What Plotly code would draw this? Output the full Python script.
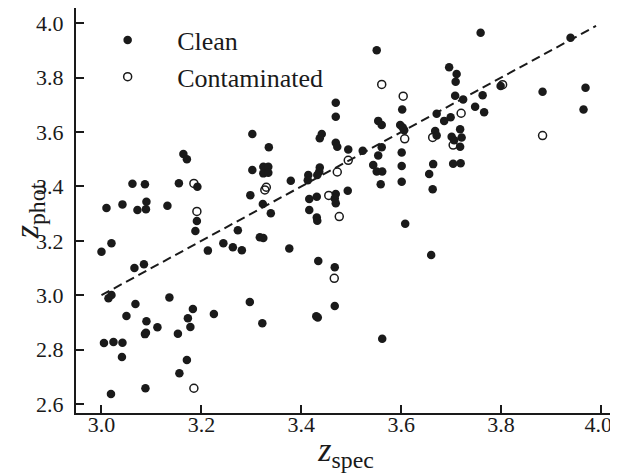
import plotly.graph_objects as go

# Clean sources (filled dots)
clean_zspec = [3.000, 3.020, 3.010, 3.042, 3.062, 3.087, 3.072, 3.089, 3.090, 3.132,
               3.155, 3.164, 3.171, 3.192, 3.191, 3.188, 3.213, 3.244, 3.263, 3.281,
               3.273, 3.302, 3.302, 3.298, 3.066, 3.085, 3.014, 3.020, 3.068, 3.136,
               3.050, 3.090, 3.112, 3.087, 3.089, 3.183, 3.173, 3.178, 3.225, 3.153,
               3.297, 3.005, 3.024, 3.042, 3.041, 3.171, 3.156, 3.019, 3.088, 3.317,
               3.324, 3.322, 3.324, 3.334, 3.324, 3.334, 3.335, 3.323, 3.339, 3.441,
               3.437, 3.469, 3.472, 3.494, 3.523, 3.561, 3.554, 3.601, 3.601, 3.601,
               3.606, 3.668, 3.664, 3.656, 3.663, 3.544, 3.551, 3.562, 3.559, 3.437,
               3.436, 3.432, 3.414, 3.413, 3.379, 3.416, 3.431, 3.469, 3.467, 3.469,
               3.493, 3.416, 3.431, 3.432, 3.608, 3.376, 3.434, 3.467, 3.660, 3.467,
               3.430, 3.433, 3.562, 3.551, 3.602, 3.469, 3.469, 3.554, 3.561, 3.598,
               3.603, 3.671, 3.671, 3.759, 3.939, 3.696, 3.711, 3.709, 3.799, 3.883,
               3.969, 3.965, 3.708, 3.724, 3.763, 3.748, 3.766, 3.699, 3.686, 3.701,
               3.718, 3.721, 3.706, 3.718, 3.704, 3.719]
clean_zphot = [3.160, 3.191, 3.321, 3.334, 3.410, 3.408, 3.313, 3.316, 3.344, 3.329,
               3.412, 3.519, 3.500, 3.399, 3.273, 3.236, 3.164, 3.191, 3.176, 3.165,
               3.239, 3.593, 3.460, 3.368, 3.100, 3.114, 2.989, 3.001, 2.968, 2.992,
               2.924, 2.904, 2.882, 2.857, 2.862, 2.949, 2.915, 2.883, 2.931, 2.858,
               2.975, 2.824, 2.828, 2.825, 2.773, 2.762, 2.713, 2.637, 2.658, 3.213,
               3.210, 2.897, 3.472, 3.472, 3.448, 3.450, 3.544, 3.335, 3.301, 3.593,
               3.577, 3.561, 3.546, 3.536, 3.531, 3.544, 3.514, 3.525, 3.475, 3.417,
               3.607, 3.604, 3.482, 3.446, 3.390, 3.479, 3.455, 3.455, 3.408, 3.470,
               3.454, 3.442, 3.442, 3.423, 3.421, 3.354, 3.362, 3.372, 3.356, 3.338,
               3.384, 3.313, 3.286, 3.274, 3.263, 3.172, 3.126, 3.103, 3.148, 2.960,
               2.923, 2.918, 2.840, 3.901, 3.683, 3.708, 3.656, 3.641, 3.626, 3.626,
               3.617, 3.667, 3.587, 3.965, 3.947, 3.838, 3.813, 3.785, 3.769, 3.748,
               3.763, 3.683, 3.733, 3.720, 3.735, 3.693, 3.673, 3.654, 3.641, 3.583,
               3.610, 3.580, 3.570, 3.546, 3.483, 3.485]

# Contaminated sources (open circles)
cont_zspec = [3.185, 3.191, 3.185, 3.327, 3.330, 3.607, 3.663, 3.494, 3.472, 3.455,
              3.476, 3.466, 3.561, 3.604, 3.803, 3.720, 3.883, 3.704]
cont_zphot = [3.411, 3.308, 2.658, 3.387, 3.397, 3.575, 3.580, 3.496, 3.453, 3.367,
              3.289, 3.062, 3.775, 3.732, 3.774, 3.669, 3.587, 3.552]

# One-to-one line
line_x = [3.0, 3.99]
line_y = [3.0, 3.99]

x_ticks = [3.0, 3.2, 3.4, 3.6, 3.8, 4.0]
y_ticks = [2.6, 2.8, 3.0, 3.2, 3.4, 3.6, 3.8, 4.0]

FONT = "Liberation Serif"

# last x label gets a trailing no-break space so it stays inside the window edge
x_ticktext = [f"{v:.1f}" for v in x_ticks]
x_ticktext[-1] = x_ticktext[-1] + "\u00a0"

fig = go.Figure()
fig.add_trace(go.Scatter(x=line_x, y=line_y, mode="lines", showlegend=False,
                         line=dict(color="#1a1a1a", width=2, dash="9px,5px"), hoverinfo="skip"))
fig.add_trace(go.Scatter(x=clean_zspec, y=clean_zphot, mode="markers", name="Clean",
                         marker=dict(symbol="circle", size=8.5, color="#1a1a1a", line=dict(width=0))))
fig.add_trace(go.Scatter(x=cont_zspec, y=cont_zphot, mode="markers", name="Contaminated",
                         marker=dict(symbol="circle-open", size=8, color="#1a1a1a",
                                     line=dict(width=1.5, color="#1a1a1a"))))

axis_common = dict(showline=True, linewidth=2, linecolor="#1a1a1a", mirror=True,
                   ticks="inside", ticklen=8, tickwidth=1.5, tickcolor="#1a1a1a",
                   showgrid=False, zeroline=False, automargin=False,
                   ticklabeloverflow="allow",
                   tickfont=dict(family=FONT, size=22, color="#1a1a1a"))

# the page body adds an 8px offset, so the figure is sized to the remaining window
fig.update_layout(
    width=610, height=465,
    margin=dict(l=68, r=2, t=0, b=60),
    paper_bgcolor="white", plot_bgcolor="white",
    font=dict(family=FONT, color="#1a1a1a"),
    xaxis=dict(range=[2.949, 4.030], tickvals=x_ticks, ticktext=x_ticktext,
               title=dict(text="<i>z</i><sub>spec</sub>", font=dict(family=FONT, size=34), standoff=10),
               ticklabelstandoff=-9, **axis_common),
    yaxis=dict(range=[2.567, 4.056], tickvals=y_ticks, ticktext=[f"{v:.1f}" for v in y_ticks],
               title=dict(text="<i>z</i><sub>phot</sub>", font=dict(family=FONT, size=34), standoff=4),
               ticklabelstandoff=6, **axis_common),
    legend=dict(x=0.004, y=0.979, xanchor="left", yanchor="top", bgcolor="rgba(0,0,0,0)",
                font=dict(family=FONT, size=26, color="#1a1a1a"), itemwidth=89,
                tracegroupgap=0),
)

fig.write_html("out.html")
